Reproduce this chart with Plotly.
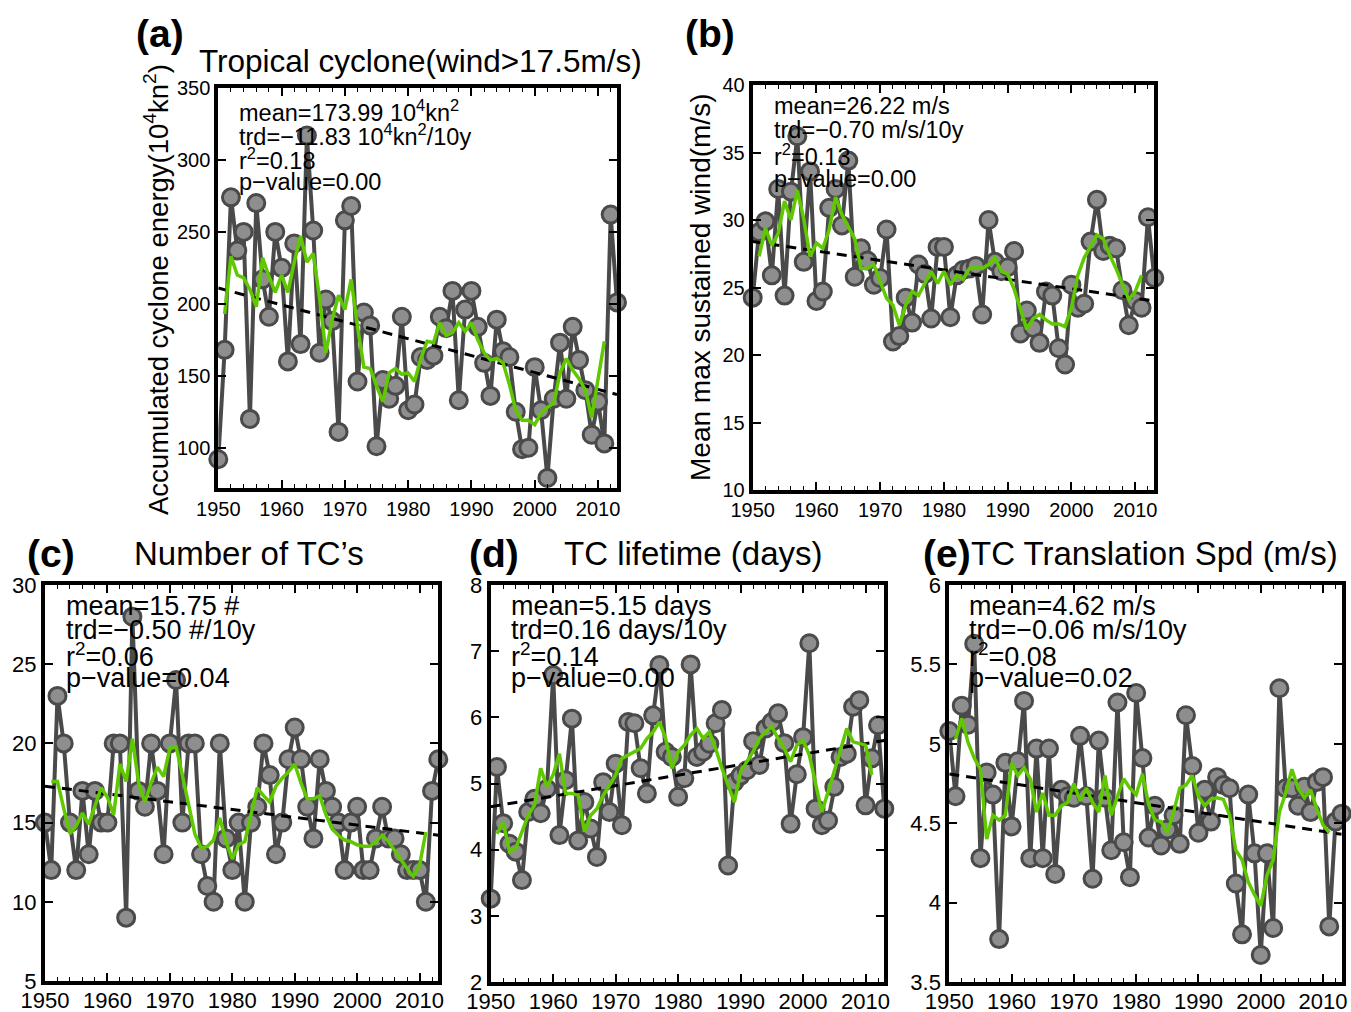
import plotly.graph_objects as go

years = list(range(1950, 2014))
smooth_years = list(range(1951, 2012))
trend_years = [1950, 2013]

ace = [92, 168, 274, 237, 250, 120, 270, 217, 191, 250,
       225, 160, 242, 172, 317, 251, 166, 203, 188, 111,
       258, 268, 146, 194, 185, 101, 147, 134, 143, 191,
       126, 130, 163, 161, 164, 191, 183, 209, 133, 196,
       209, 184, 159, 136, 189, 167, 163, 125, 99, 100,
       156, 126, 79, 134, 173, 134, 184, 161, 140, 109,
       132, 103, 262, 201]
ace_smooth = [193, 233, 220, 218, 210, 198, 232, 219, 208, 220,
              208, 229, 247, 229, 235, 204, 166, 189, 206, 196,
              217, 184, 156, 155, 143, 132, 152, 155, 151, 152,
              146, 162, 174, 173, 187, 178, 180, 187, 181, 187,
              175, 166, 161, 162, 159, 144, 126, 119, 119, 116,
              124, 128, 131, 152, 162, 154, 148, 140, 121, 146,
              174]
ace_trend = [211, 137]

wind = [24.25, 29.1, 29.9, 25.9, 32.3, 24.4, 32.1, 36.2, 26.9, 33.6,
        24.0, 24.7, 30.9, 32.3, 29.6, 34.4, 25.8, 27.9, 27.0, 25.2,
        25.7, 29.3, 21.0, 21.4, 24.25, 22.4, 26.7, 26.0, 22.7, 28.0,
        28.0, 22.8, 25.9, 26.3, 26.4, 26.6, 23.0, 30.0, 26.9, 26.2,
        26.5, 27.7, 21.6, 23.3, 22.0, 20.9, 24.7, 24.4, 20.5, 19.3,
        25.2, 23.5, 23.8, 28.4, 31.5, 27.7, 28.1, 27.9, 24.8, 22.2,
        24.0, 23.5, 30.2, 25.7]
wind_smooth = [27.3, 29.4, 28.1, 29.0, 31.4, 30.0, 32.2, 30.1, 27.3, 28.3,
               27.9, 29.3, 31.7, 30.4, 29.5, 28.6, 26.4, 26.4, 26.7, 25.4,
               24.2, 23.7, 22.2, 23.7, 24.7, 24.4, 25.3, 26.2, 25.3, 26.2,
               25.2, 25.9, 25.6, 26.4, 26.5, 26.4, 26.7, 27.2, 26.2, 26.0,
               24.9, 23.5, 21.9, 22.7, 23.0, 22.6, 22.3, 22.3, 22.1, 23.5,
               25.9, 27.2, 28.1, 28.9, 28.6, 27.4, 26.4, 25.2, 24.1, 24.7,
               25.9]
wind_trend = [28.4, 24.0]

count = [15, 12, 23, 20, 15, 12, 17, 13, 17, 15,
         15, 20, 20, 9, 28, 17, 16, 20, 17, 13,
         20, 24, 15, 20, 20, 13, 11, 10, 20, 14,
         12, 15, 10, 15, 16, 20, 18, 13, 15, 19,
         21, 19, 16, 14, 19, 17, 16, 15, 12, 15,
         16, 12, 12, 14, 16, 14, 14, 13, 12, 12,
         12, 10, 17, 19]
count_smooth = [17.6, 17.6, 15.9, 14.3, 14.8, 15.6, 14.9, 16.1, 17.2, 16.6,
                15.5, 18.7, 17.6, 20.3, 17.5, 16.3, 17.5, 18.5, 17.9, 19.7,
                19.8, 18.0, 16.1, 14.3, 13.4, 13.5, 13.9, 15.3, 13.8, 12.7,
                13.6, 13.8, 15.5, 17.2, 16.7, 16.3, 17.3, 17.8, 18.2, 18.7,
                17.5, 16.5, 16.5, 16.7, 15.5, 14.6, 14.2, 13.9, 13.8, 13.6,
                13.5, 13.5, 13.8, 14.2, 13.8, 13.2, 12.7, 12.1, 11.6, 12.3,
                14.4]
count_trend = [17.3, 14.2]

life = [3.26, 5.25, 4.40, 4.09, 3.97, 3.54, 4.57, 4.77, 4.55, 4.92,
        6.64, 4.22, 5.05, 5.98, 4.14, 4.72, 4.32, 3.89, 5.02, 4.57,
        5.30, 4.37, 5.93, 5.91, 5.23, 4.85, 6.03, 6.79, 5.48, 5.40,
        4.80, 5.08, 6.80, 5.40, 5.48, 5.60, 5.91, 6.11, 3.76, 5.02,
        5.12, 5.20, 5.64, 5.28, 5.83, 5.93, 6.06, 5.61, 4.39, 5.14,
        5.70, 7.12, 4.62, 4.37, 4.44, 4.95, 5.40, 5.45, 6.16, 6.26,
        4.67, 5.38, 5.88, 4.62]
life_smooth = [4.24, 4.42, 3.97, 4.02, 4.27, 4.52, 4.67, 5.23, 4.95, 5.13,
               5.45, 4.85, 4.85, 4.82, 4.27, 4.52, 4.62, 4.82, 4.97, 5.13,
               5.38, 5.43, 5.48, 5.53, 5.68, 5.78, 5.93, 5.68, 5.23, 5.48,
               5.58, 5.73, 5.83, 5.68, 5.78, 5.53, 5.23, 4.97, 4.72, 5.18,
               5.33, 5.48, 5.68, 5.78, 5.86, 5.68, 5.53, 5.33, 5.58, 5.65,
               5.43, 5.02, 4.57, 4.87, 5.18, 5.48, 5.83, 5.63, 5.60, 5.58,
               5.13]
life_trend = [4.65, 5.65]

speed = [5.08, 4.67, 5.24, 5.12, 5.63, 4.28, 4.82, 4.68, 3.77, 4.88,
         4.48, 4.89, 5.27, 4.28, 4.97, 4.28, 4.97, 4.18, 4.71, 4.67,
         4.66, 5.05, 4.67, 4.15, 5.02, 4.66, 4.33, 5.26, 4.38, 4.16,
         5.32, 4.91, 4.41, 4.61, 4.36, 4.46, 4.55, 4.37, 5.18, 4.86,
         4.44, 4.71, 4.51, 4.79, 4.74, 4.72, 4.12, 3.80, 4.68, 4.31,
         3.67, 4.31, 3.84, 5.35, 4.72, 4.72, 4.61, 4.73, 4.57, 4.76,
         4.79, 3.85, 4.51, 4.56]
speed_smooth = [5.03, 5.16, 5.01, 4.91, 4.84, 4.40, 4.55, 4.52, 4.55, 4.88,
                4.80, 4.85, 4.78, 4.57, 4.69, 4.55, 4.55, 4.61, 4.63, 4.75,
                4.64, 4.72, 4.63, 4.57, 4.80, 4.55, 4.67, 4.78, 4.72, 4.68,
                4.81, 4.62, 4.52, 4.51, 4.44, 4.57, 4.72, 4.74, 4.80, 4.67,
                4.61, 4.65, 4.66, 4.65, 4.55, 4.33, 4.27, 4.13, 4.05, 3.98,
                4.17, 4.27, 4.57, 4.69, 4.84, 4.72, 4.66, 4.71, 4.59, 4.49,
                4.44]
speed_trend = [4.81, 4.43]

x_tick_vals = [1950, 1960, 1970, 1980, 1990, 2000, 2010]

W, H = 1351, 1012
def fx(p):
    return p / W
def fy(p):
    return 1 - p / H

FONT = "Liberation Sans, Arial, Helvetica, sans-serif"

panels = [
    dict(vals=ace, sm=ace_smooth, tr=ace_trend, box=(218.3, 617, 88, 488), yr=[72, 350], dy=50, tf=20, xs=0,
         stats=["mean=173.99 10<sup>4</sup>kn<sup>2</sup>", "trd=\u221211.83 10<sup>4</sup>kn<sup>2</sup>/10y",
                "r<sup>2</sup>=0.18", "p\u2212value=0.00"], sx=237, sy=[111, 135, 159, 182], sf=23.5),
    dict(vals=wind, sm=wind_smooth, tr=wind_trend, box=(752.7, 1154.3, 85, 490), yr=[10, 40], dy=5, tf=20, xs=-1,
         stats=["mean=26.22 m/s", "trd=\u22120.70 m/s/10y", "r<sup>2</sup>=0.13", "p\u2212value=0.00"],
         sx=772, sy=[106, 130, 155, 179], sf=23.5),
    dict(vals=count, sm=count_smooth, tr=count_trend, box=(45, 438.3, 585, 981), yr=[5, 30], dy=5, tf=22, xs=-3,
         stats=["mean=15.75 #", "trd=\u22120.50 #/10y", "r<sup>2</sup>=0.06", "p\u2212value=0.04"],
         sx=64, sy=[606, 630, 655, 678], sf=27),
    dict(vals=life, sm=life_smooth, tr=life_trend, box=(490.7, 884.3, 585, 982), yr=[2, 8], dy=1, tf=22, xs=-3,
         stats=["mean=5.15 days", "trd=0.16 days/10y", "r<sup>2</sup>=0.14", "p\u2212value=0.00"],
         sx=509, sy=[606, 630, 655, 678], sf=27),
    dict(vals=speed, sm=speed_smooth, tr=speed_trend, box=(949.3, 1341.7, 585, 982), yr=[3.5, 6], dy=0.5, tf=22, xs=-3,
         stats=["mean=4.62 m/s", "trd=\u22120.06 m/s/10y", "r<sup>2</sup>=0.08", "p\u2212value=0.02"],
         sx=967, sy=[606, 630, 655, 678], sf=27),
]

fig = go.Figure()
annotations = []
layout = {}

for i, p in enumerate(panels):
    n = "" if i == 0 else str(i + 1)
    xa, ya = "x" + n, "y" + n
    x0, x1, y0, y1 = p["box"]
    layout["xaxis" + n] = dict(
        domain=[fx(x0), fx(x1)], range=[1950, 2013], anchor=ya, automargin=False,
        tickvals=x_tick_vals, ticks="inside", ticklen=8, tickwidth=1.5, tickcolor="black",
        ticklabelstandoff=p["xs"],
        minor=dict(dtick=2, tick0=1950, ticks="inside", ticklen=4, tickwidth=1, tickcolor="black"),
        showline=True, linewidth=4, linecolor="black", mirror="ticks",
        showgrid=False, zeroline=False, tickfont=dict(size=p["tf"], color="black", family=FONT),
    )
    layout["yaxis" + n] = dict(
        domain=[fy(y1), fy(y0)], range=p["yr"], anchor=xa, automargin=False,
        dtick=p["dy"], tick0=p["yr"][0] if i != 0 else 0, ticks="inside", ticklen=8, tickwidth=1.5,
        tickcolor="black", showline=True, linewidth=4, linecolor="black", mirror="ticks",
        showgrid=False, zeroline=False, tickfont=dict(size=p["tf"], color="black", family=FONT),
    )
    fig.add_trace(go.Scatter(
        x=years, y=p["vals"], xaxis=xa, yaxis=ya, mode="lines+markers", cliponaxis=False,
        line=dict(color="#4a4a4a", width=4),
        marker=dict(size=17, color="#8e8e8e", line=dict(color="#4a4a4a", width=3)),
        showlegend=False, hoverinfo="skip"))
    fig.add_trace(go.Scatter(
        x=trend_years, y=p["tr"], xaxis=xa, yaxis=ya, mode="lines",
        line=dict(color="black", width=3, dash="10px,7px"), showlegend=False, hoverinfo="skip"))
    fig.add_trace(go.Scatter(
        x=smooth_years, y=p["sm"], xaxis=xa, yaxis=ya, mode="lines",
        line=dict(color="#5fc800", width=3.5), showlegend=False, hoverinfo="skip"))
    for txt, yy in zip(p["stats"], p["sy"]):
        annotations.append(dict(text=txt, x=fx(p["sx"]), y=fy(yy), xref="paper", yref="paper",
                                xanchor="left", yanchor="middle", showarrow=False,
                                font=dict(size=p["sf"], color="black", family=FONT)))

# panel letters and titles
labels = [
    ("<b>(a)</b>", 160, 33, 39),
    ("<b>(b)</b>", 710, 33, 39),
    ("<b>(c)</b>", 51, 553, 39),
    ("<b>(d)</b>", 494, 553, 39),
    ("<b>(e)</b>", 947, 553, 39),
    ("Tropical cyclone(wind>17.5m/s)", 420, 61, 31.5),
    ("Number of TC\u2019s", 249, 553, 33),
    ("TC lifetime (days)", 693, 553, 33),
    ("TC Translation Spd (m/s)", 1154, 553, 33),
]
for txt, x, y, s in labels:
    annotations.append(dict(text=txt, x=fx(x), y=fy(y), xref="paper", yref="paper",
                            xanchor="center", yanchor="middle", showarrow=False,
                            font=dict(size=s, color="black", family=FONT)))

# y axis titles
annotations.append(dict(text="Accumulated cyclone energy(10<sup>4</sup>kn<sup>2</sup>)", x=fx(156), y=fy(290),
                        xref="paper", yref="paper", textangle=-90, xanchor="center", yanchor="middle",
                        showarrow=False, font=dict(size=27.5, color="black", family=FONT)))
annotations.append(dict(text="Mean max sustained wind(m/s)", x=fx(700), y=fy(287),
                        xref="paper", yref="paper", textangle=-90, xanchor="center", yanchor="middle",
                        showarrow=False, font=dict(size=28, color="black", family=FONT)))

fig.update_layout(
    width=W, height=H, margin=dict(l=0, r=0, t=0, b=0), autosize=False,
    paper_bgcolor="white", plot_bgcolor="white",
    font=dict(family=FONT, color="black"),
    annotations=annotations, showlegend=False, **layout)

fig.write_html("out.html")
